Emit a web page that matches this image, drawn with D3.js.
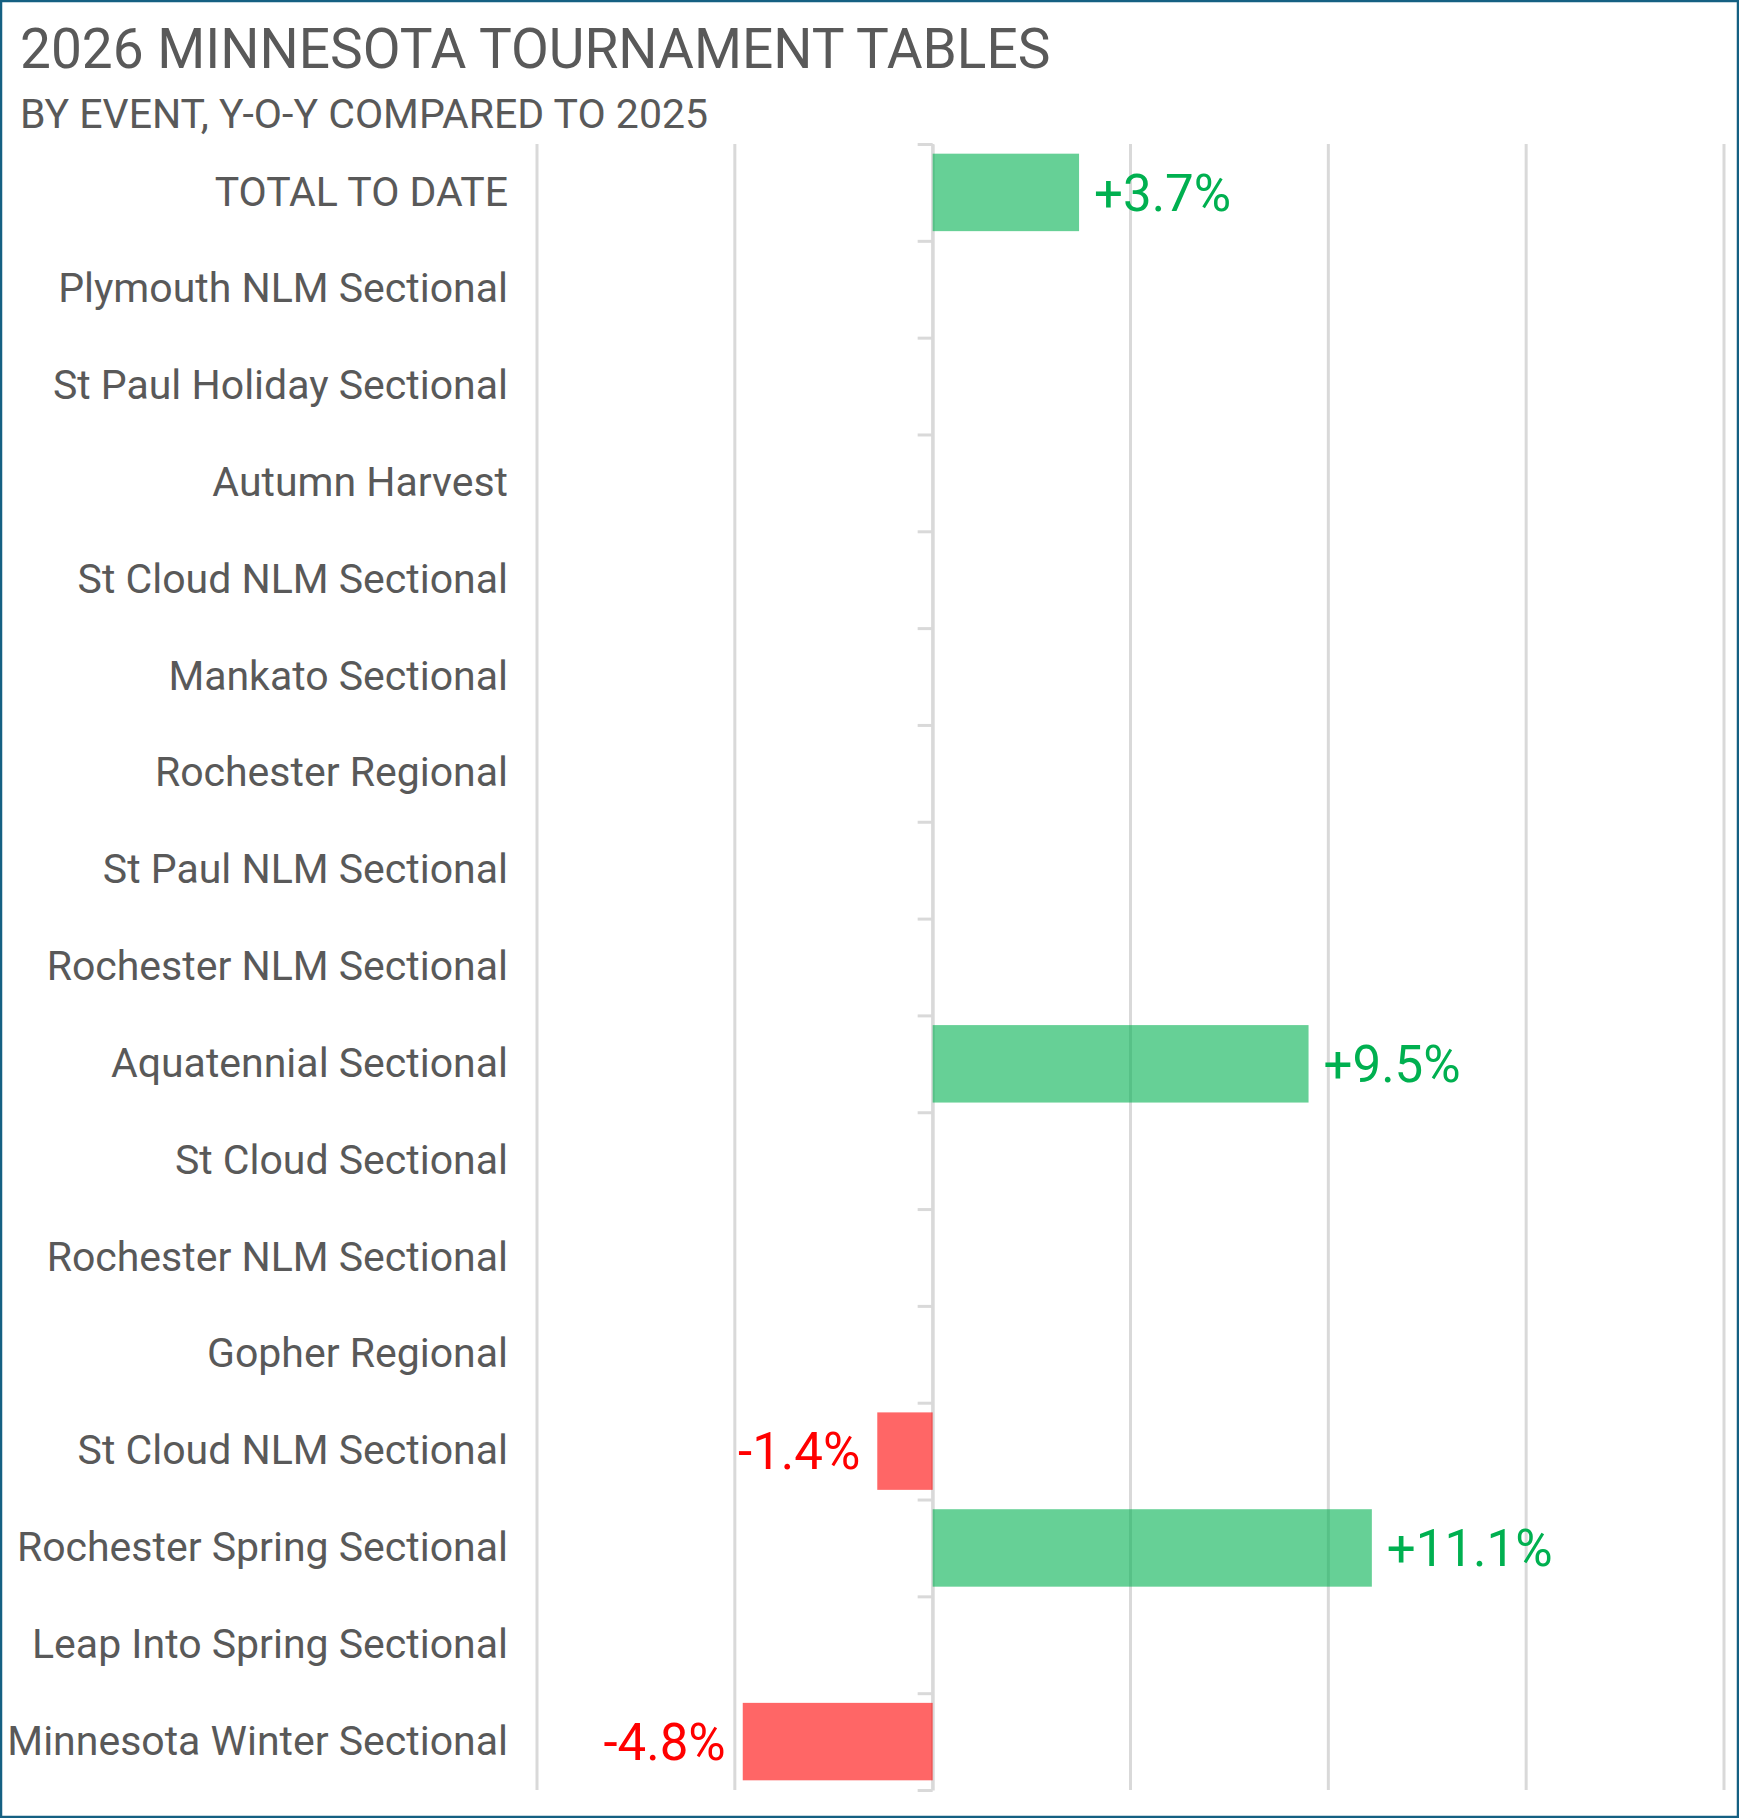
<!DOCTYPE html>
<html>
<head>
<script src="https://d3js.org/d3.v7.min.js"></script>
<style>
  body { margin: 0; background: #fff; }
  svg { display: block; }
</style>
</head>
<body>
<div id="chart"></div>
<script>
    // Data
    var events = [
        "TOTAL TO DATE",
        "Plymouth NLM Sectional",
        "St Paul Holiday Sectional",
        "Autumn Harvest",
        "St Cloud NLM Sectional",
        "Mankato Sectional",
        "Rochester Regional",
        "St Paul NLM Sectional",
        "Rochester NLM Sectional",
        "Aquatennial Sectional",
        "St Cloud Sectional",
        "Rochester NLM Sectional",
        "Gopher Regional",
        "St Cloud NLM Sectional",
        "Rochester Spring Sectional",
        "Leap Into Spring Sectional",
        "Minnesota Winter Sectional"
    ]
    // y-o-y change in %, null = no comparison yet
    var changes = [3.7, null, null, null, null, null, null, null, null, 9.5, null, null, null, -1.4, 11.1, null, -4.8]
    var xTicks = [-10, -5, 0, 5, 10, 15, 20]

    var width = 1739
    var height = 1818
    var margin = {top: 144, right: 15, bottom: 28, left: 537}
    var font = "'Roboto', sans-serif"

    var svg = d3.select("#chart")
        .append("svg")
        .attr("width", width)
        .attr("height", height);

    // outer frame
    svg.append("rect")
        .attr("x", 1)
        .attr("y", 1)
        .attr("width", width - 2)
        .attr("height", height - 2)
        .attr("fill", "#fff")
        .attr("stroke", "#156082")
        .attr("stroke-width", 2.5);

    // titles
    svg.append("text")
        .attr("x", 20)
        .attr("y", 68)
        .attr("font-family", font)
        .attr("font-size", 55)
        .attr("fill", "#595959")
        .text("2026 MINNESOTA TOURNAMENT TABLES");

    svg.append("text")
        .attr("x", 20)
        .attr("y", 128)
        .attr("font-family", font)
        .attr("font-size", 41)
        .attr("fill", "#595959")
        .text("BY EVENT, Y-O-Y COMPARED TO 2025");

    var plotW = width - margin.left - margin.right
    var plotH = height - margin.top - margin.bottom

    var g = svg.append("g")
        .attr("transform", "translate(" + margin.left + "," + margin.top + ")");

    var x = d3.scaleLinear()
        .domain([-10, 20])
        .range([0, plotW]);

    var y = d3.scaleBand()
        .domain(d3.range(events.length))
        .range([0, plotH])
        .paddingInner(0.2)
        .paddingOuter(0.1);

    // vertical gridlines
    g.append("g")
        .selectAll("line")
        .data(xTicks)
        .enter()
        .append("line")
            .attr("x1", d => x(d))
            .attr("x2", d => x(d))
            .attr("y1", 0)
            .attr("y2", plotH)
            .attr("stroke", "#d9d9d9")
            .attr("stroke-width", 3);

    // category axis at zero, ticks between categories
    var yEdge = d3.scaleLinear()
        .domain([0, events.length])
        .range([0, plotH]);

    var yAxis = g.append("g")
        .attr("transform", "translate(" + x(0) + ",0)")
        .call(d3.axisLeft(yEdge)
            .tickValues(d3.range(events.length + 1))
            .tickSize(15)
            .tickSizeOuter(0)
            .tickFormat(""));
    yAxis.selectAll("path, line")
        .attr("stroke", "#d9d9d9")
        .attr("stroke-width", 3);

    // category labels
    g.append("g")
        .selectAll("text")
        .data(events)
        .enter()
        .append("text")
            .attr("x", -29)
            .attr("y", (d, i) => yEdge(i + 0.5))
            .attr("dy", "0.32em")
            .attr("text-anchor", "end")
            .attr("font-family", font)
            .attr("font-size", 41)
            .attr("fill", "#595959")
            .text(d => d);

    var rows = events.map((e, i) => ({i: i, v: changes[i]})).filter(d => d.v !== null)

    // bars
    g.append("g")
        .selectAll("rect")
        .data(rows)
        .enter()
        .append("rect")
            .attr("x", d => x(Math.min(0, d.v)))
            .attr("y", d => y(d.i))
            .attr("width", d => Math.abs(x(d.v) - x(0)))
            .attr("height", y.bandwidth())
            .attr("fill", d => d.v >= 0 ? "#00B050" : "#FF0000")
            .attr("fill-opacity", 0.6);

    // value labels
    g.append("g")
        .selectAll("text")
        .data(rows)
        .enter()
        .append("text")
            .attr("x", d => d.v >= 0 ? x(d.v) + 15 : x(d.v) - 17)
            .attr("y", d => y(d.i) + y.bandwidth() / 2)
            .attr("dy", "0.36em")
            .attr("text-anchor", d => d.v >= 0 ? "start" : "end")
            .attr("font-family", font)
            .attr("font-size", 51)
            .attr("fill", d => d.v >= 0 ? "#00B050" : "#FF0000")
            .text(d => (d.v > 0 ? "+" : "") + d.v.toFixed(1) + "%");
</script>
</body>
</html>
